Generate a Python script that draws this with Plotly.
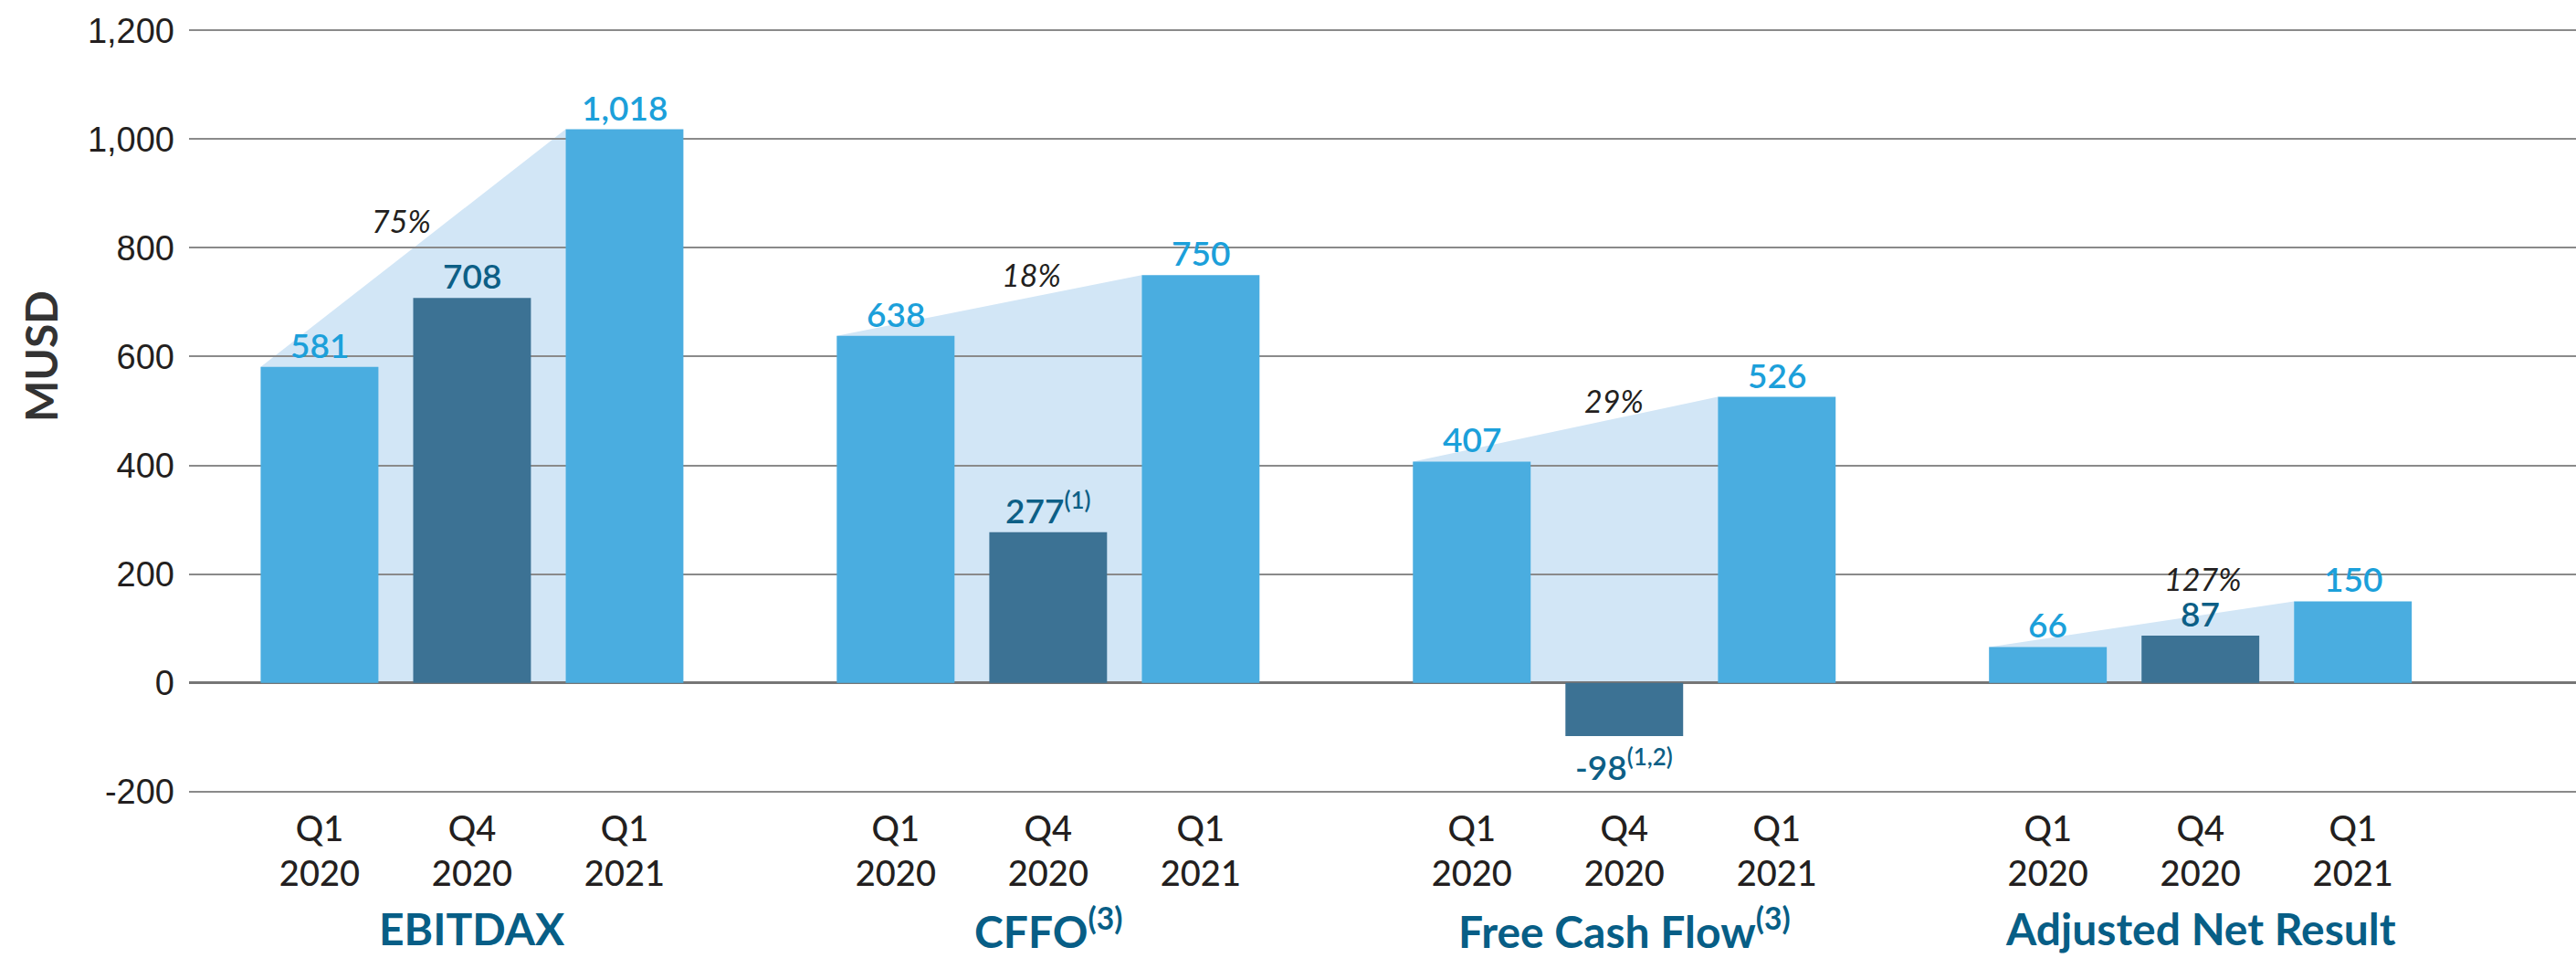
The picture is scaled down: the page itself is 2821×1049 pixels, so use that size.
import plotly.graph_objects as go

# ---------------- data ----------------
groups = ["EBITDAX", "CFFO<sup>(3)</sup>", "Free Cash Flow<sup>(3)</sup>", "Adjusted Net Result"]
periods = ["Q1<br>2020", "Q4<br>2020", "Q1<br>2021"]
q1_2020 = [581, 638, 407, 66]
q4_2020 = [708, 277, -98, 87]
q1_2021 = [1018, 750, 526, 150]
q4_notes = ["", "(1)", "(1,2)", ""]
growth = ["75%", "18%", "29%", "127%"]
y_ticks = [-200, 0, 200, 400, 600, 800, 1000, 1200]

# ---------------- style ----------------
LIGHT = "#4aade0"
DARK = "#3c7294"
FILL = "#d2e6f6"
LIGHT_TXT = "#1ca0da"
DARK_TXT = "#0d5f86"
GROUP_TXT = "#075e86"
AXIS_TXT = "#231f20"
GRID = "#8a8a8a"
GROUP_STEP = 3.778   # distance between groups, in bar slots
BAR_W = 0.772
pct_xshift = [-77, -18, -11, 2]   # label nudges (px)
pct_yshift = [40, 25, 20, 40]

series = [q1_2020, q4_2020, q1_2021]
colors = [LIGHT, DARK, LIGHT]
txt_colors = [LIGHT_TXT, DARK_TXT, LIGHT_TXT]

def pos(g, i):
    return g * GROUP_STEP + i

fig = go.Figure()

for i, vals in enumerate(series):
    fig.add_trace(go.Bar(
        x=[pos(g, i) for g in range(len(groups))],
        y=vals,
        width=BAR_W,
        marker=dict(color=colors[i], line=dict(width=0)),
        name=periods[i].replace("<br>", " "),
        hoverinfo="y",
    ))

shapes = []
annotations = []
for g in range(len(groups)):
    v1, v3 = q1_2020[g], q1_2021[g]
    l1 = pos(g, 0) - BAR_W / 2
    l3 = pos(g, 2) - BAR_W / 2
    shapes.append(dict(
        type="path", xref="x", yref="y", layer="below",
        path=f"M {l1},0 L {l1},{v1} L {l3},{v3} L {l3},0 Z",
        fillcolor=FILL, line=dict(width=0),
    ))
    # value labels
    for i, vals in enumerate(series):
        v = vals[g]
        txt = f"{v:,}"
        if i == 1 and q4_notes[g]:
            txt += f"<sup>{q4_notes[g]}</sup>"
        annotations.append(dict(
            x=pos(g, i), y=v, xref="x", yref="y", text=txt, showarrow=False,
            yanchor="bottom" if v >= 0 else "top",
            yshift=0 if v >= 0 else -4,
            font=dict(family="Lato", size=37, color=txt_colors[i], weight=600),
        ))
    # growth label
    xl = pos(g, 1) + pct_xshift[g] / 167.0
    yl = v1 + (v3 - v1) * (xl - l1) / (l3 - l1)
    annotations.append(dict(
        x=pos(g, 1), y=yl, xref="x", yref="y", text=f"<i>{growth[g]}</i>",
        showarrow=False, xshift=pct_xshift[g], yshift=pct_yshift[g],
        yanchor="middle",
        font=dict(family="Lato", size=34, color=AXIS_TXT),
    ))
    # group label
    annotations.append(dict(
        x=pos(g, 1), y=-0.178, xref="x", yref="paper", text=f"<b>{groups[g]}</b>",
        showarrow=False, yanchor="middle",
        font=dict(family="Lato", size=48, color=GROUP_TXT),
    ))

# y-axis title, placed like the reference (left of the ticks)
annotations.append(dict(
    x=(45 - 207) / 2614.0, y=(868 - 390) / 836.0, xref="paper", yref="paper",
    text="<b>MUSD</b>", showarrow=False, textangle=-90,
    xanchor="center", yanchor="middle",
    font=dict(family="Lato", size=48, color="#333333"),
))

tickvals = [pos(g, i) for g in range(len(groups)) for i in range(3)]
ticktext = [periods[i] for g in range(len(groups)) for i in range(3)]
y_ticktext = [f"{v:,}" for v in y_ticks]

fig.update_layout(
    width=2821, height=1049,
    margin=dict(l=207, r=0, t=32, b=181, pad=0),
    paper_bgcolor="white", plot_bgcolor="white",
    showlegend=False,
    barmode="overlay",
    shapes=shapes,
    annotations=annotations,
    xaxis=dict(
        range=[-0.856, 14.797], tickvals=tickvals, ticktext=ticktext,
        showgrid=False, zeroline=False, showline=False, ticks="",
        tickfont=dict(family="Lato", size=38, color=AXIS_TXT, weight=500),
        ticklabelstandoff=14,
    ),
    yaxis=dict(
        range=[-202, 1202], tickvals=y_ticks, ticktext=y_ticktext,
        showgrid=True, gridcolor=GRID, gridwidth=1.5,
        zeroline=True, zerolinecolor="#767676", zerolinewidth=3,
        showline=False, ticks="",
        tickfont=dict(family="Liberation Sans, Arial", size=38, color=AXIS_TXT),
        ticklabelstandoff=15,
    ),
)

fig.write_html("out.html", config={"displayModeBar": False},
               post_script="document.body.style.margin='0';")
